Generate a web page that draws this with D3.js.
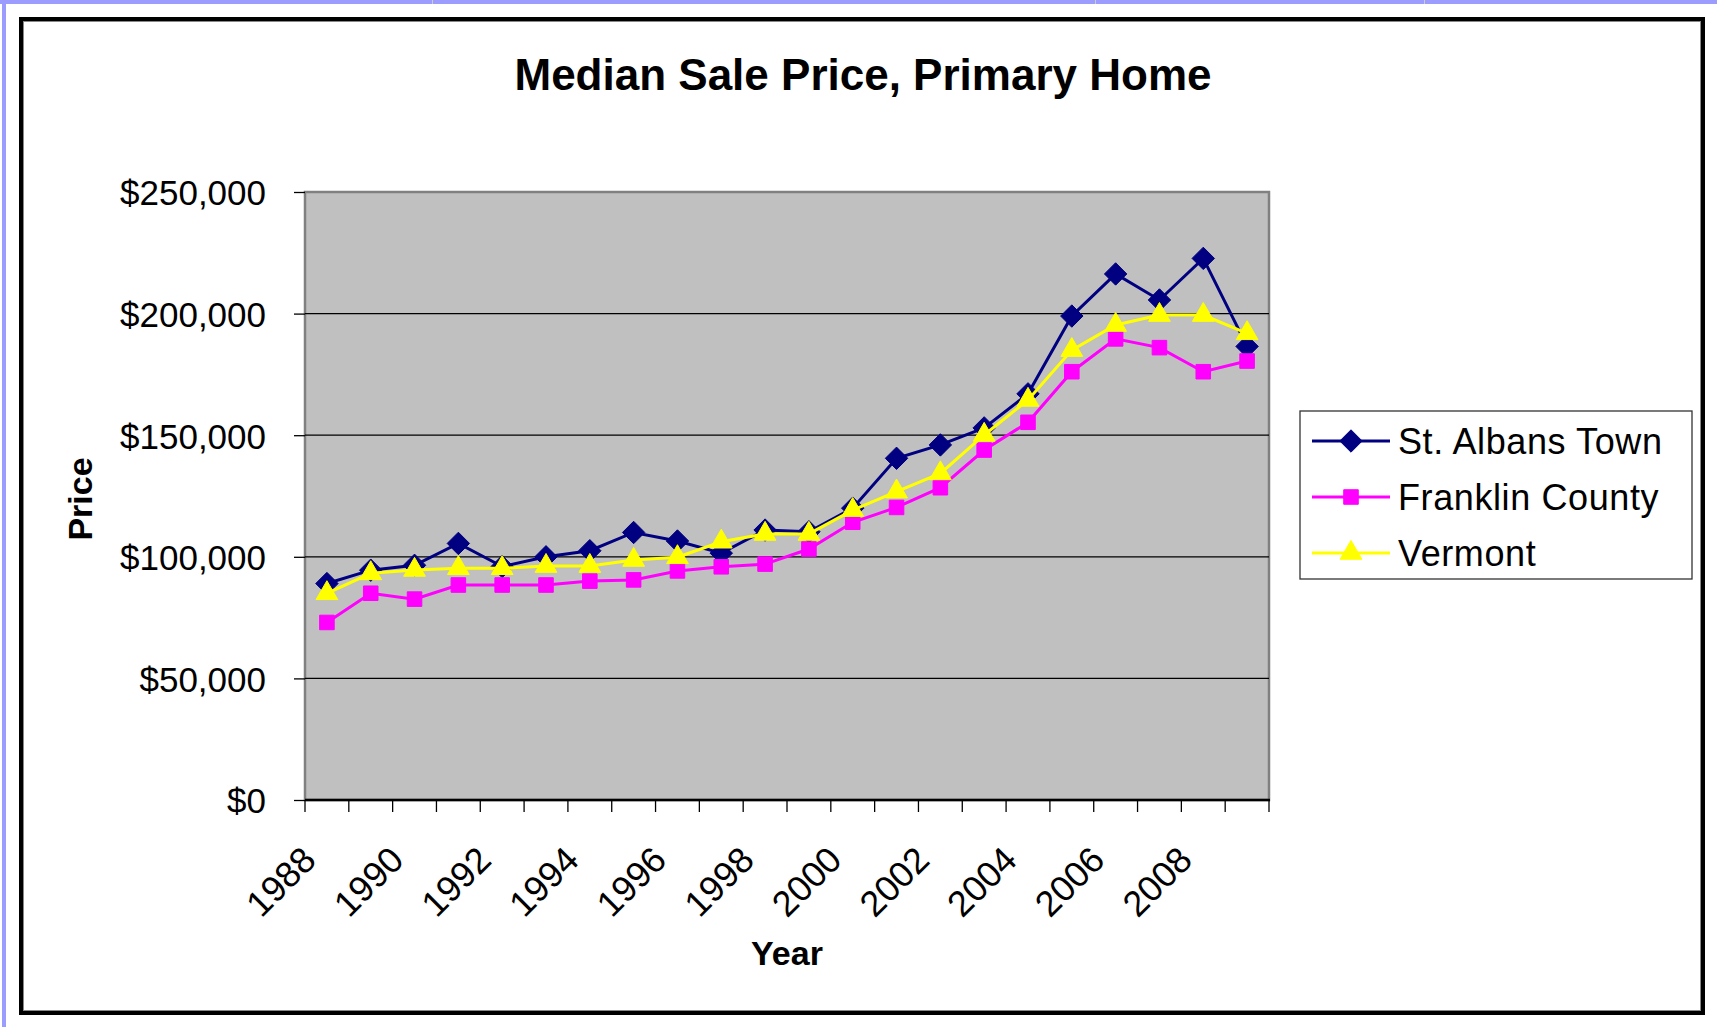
<!DOCTYPE html>
<html>
<head>
<meta charset="utf-8">
<script src="https://cdn.jsdelivr.net/npm/d3@7"></script>
<style>
  body { margin: 0; background: #fff; }
  svg { display: block; font-family: "Liberation Sans", Arial, sans-serif; }
</style>
</head>
<body>
<div id="chart"></div>
<script>
const W = 1717, H = 1027;

// data
const years = [1988, 1989, 1990, 1991, 1992, 1993, 1994, 1995, 1996, 1997, 1998,
               1999, 2000, 2001, 2002, 2003, 2004, 2005, 2006, 2007, 2008, 2009];
const stAlbans = [89000, 94500, 96500, 105500, 96000, 100000, 102500, 110000, 106500, 101500, 111000,
                  110300, 120000, 140500, 146000, 153000, 167000, 199000, 216300, 205600, 222700, 186500];
const franklin = [73000, 85000, 82600, 88400, 88400, 88400, 90000, 90500, 94200, 95900, 97000,
                  103200, 114200, 120300, 128400, 143900, 155300, 176100, 189600, 186000, 176100, 180500];
const vermont = [85000, 93200, 94600, 95300, 95300, 96200, 96200, 98700, 99800, 106200, 109400,
                 109400, 119200, 126800, 134300, 150100, 164500, 185000, 195300, 199400, 199400, 191900];
const seriesNames = ["St. Albans Town", "Franklin County", "Vermont"];
const yTicks = [0, 50000, 100000, 150000, 200000, 250000];
const xLabels = [1988, 1990, 1992, 1994, 1996, 1998, 2000, 2002, 2004, 2006, 2008];

const series = [
  {name: seriesNames[0], values: stAlbans, color: "#000080", shape: d3.symbolDiamond2, size: 320},
  {name: seriesNames[1], values: franklin, color: "#ff00ff", shape: d3.symbolSquare2, size: 270},
  {name: seriesNames[2], values: vermont, color: "#ffff00", shape: d3.symbolTriangle2, size: 340}
];

const plot = {left: 305, right: 1269, top: 192, bottom: 800};

const svg = d3.select("#chart").append("svg")
  .attr("width", W).attr("height", H);

// page decoration
svg.append("rect").attr("x", 0).attr("y", 0).attr("width", W).attr("height", 4).attr("fill", "#9c9cff");
svg.append("rect").attr("x", 2).attr("y", 0).attr("width", 4).attr("height", H).attr("fill", "#9c9cff");
[432, 1095, 1424].forEach(x => {
  svg.append("rect").attr("x", x).attr("y", 0).attr("width", 1).attr("height", 4).attr("fill", "#ccc");
});

// chart frame
svg.append("rect")
  .attr("x", 21).attr("y", 19).attr("width", 1682).attr("height", 994)
  .attr("fill", "none").attr("stroke", "#000").attr("stroke-width", 4);
svg.append("rect")
  .attr("x", 23.5).attr("y", 21.5).attr("width", 1677).attr("height", 989)
  .attr("fill", "none").attr("stroke", "#888").attr("stroke-width", 1);

const x = d3.scaleBand().domain(years).range([plot.left, plot.right]);
const cx = d => x(d) + x.bandwidth() / 2;
const y = d3.scaleLinear().domain([0, 250000]).range([plot.bottom, plot.top]);

// plot area
svg.append("rect")
  .attr("x", plot.left).attr("y", plot.top)
  .attr("width", plot.right - plot.left).attr("height", plot.bottom - plot.top)
  .attr("fill", "#c0c0c0").attr("stroke", "#808080").attr("stroke-width", 2.5);

// gridlines
svg.append("g").selectAll("line")
  .data(yTicks.filter(t => t > 0 && t < 250000))
  .join("line")
  .attr("x1", plot.left).attr("x2", plot.right)
  .attr("y1", d => y(d)).attr("y2", d => y(d))
  .attr("stroke", "#000").attr("stroke-width", 1.3);

// y axis
const yAxis = svg.append("g")
  .attr("transform", `translate(${plot.left},0)`)
  .call(d3.axisLeft(y).tickValues(yTicks).tickSize(11).tickPadding(28)
    .tickFormat(d => "$" + d3.format(",")(d)));
yAxis.select(".domain").remove();
yAxis.selectAll(".tick line").attr("stroke", "#000").attr("stroke-width", 1.3);
yAxis.selectAll(".tick text")
  .attr("font-size", 35).attr("fill", "#000")
  .attr("font-family", "Liberation Sans, Arial, sans-serif")
  .attr("dy", "0.37em");

// x axis line and ticks between categories
svg.append("line")
  .attr("x1", plot.left).attr("x2", plot.right + 1)
  .attr("y1", plot.bottom).attr("y2", plot.bottom)
  .attr("stroke", "#000").attr("stroke-width", 2.5);
const bounds = years.map(d => x(d)).concat([plot.right]);
svg.append("g").selectAll("line")
  .data(bounds)
  .join("line")
  .attr("x1", d => d).attr("x2", d => d)
  .attr("y1", plot.bottom).attr("y2", plot.bottom + 12)
  .attr("stroke", "#000").attr("stroke-width", 1.3);

const xAxis = svg.append("g")
  .attr("transform", `translate(0,${plot.bottom})`)
  .call(d3.axisBottom(x).tickValues(xLabels).tickSize(0));
xAxis.select(".domain").remove();
xAxis.selectAll(".tick text")
  .attr("font-size", 36).attr("fill", "#000")
  .attr("font-family", "Liberation Sans, Arial, sans-serif")
  .attr("text-anchor", "end")
  .attr("y", 0).attr("dy", 0)
  .attr("transform", "translate(-9,62) rotate(-45)");

// series lines and markers
const line = d3.line().x((d, i) => cx(years[i])).y(d => y(d));
series.forEach(s => {
  svg.append("path")
    .datum(s.values)
    .attr("d", line)
    .attr("fill", "none")
    .attr("stroke", s.color)
    .attr("stroke-width", 3);
  svg.append("g").selectAll("path")
    .data(s.values)
    .join("path")
    .attr("d", d3.symbol(s.shape, s.size))
    .attr("transform", (d, i) => `translate(${cx(years[i])},${y(d)})`)
    .attr("fill", s.color)
    .attr("stroke", s.color)
    .attr("stroke-width", 1);
});

// titles
svg.append("text")
  .attr("x", 863).attr("y", 90)
  .attr("text-anchor", "middle")
  .attr("font-size", 44).attr("font-weight", "bold")
  .text("Median Sale Price, Primary Home");
svg.append("text")
  .attr("x", (plot.left + plot.right) / 2).attr("y", 965)
  .attr("text-anchor", "middle")
  .attr("font-size", 34).attr("font-weight", "bold")
  .text("Year");
svg.append("text")
  .attr("transform", "translate(92,499) rotate(-90)")
  .attr("text-anchor", "middle")
  .attr("font-size", 34).attr("font-weight", "bold")
  .text("Price");

// legend
const legend = svg.append("g");
legend.append("rect")
  .attr("x", 1300).attr("y", 411).attr("width", 392).attr("height", 168)
  .attr("fill", "#fff").attr("stroke", "#333").attr("stroke-width", 1.3);
const rowY = [441, 497, 553];
series.forEach((s, i) => {
  const g = legend.append("g").attr("transform", `translate(0,${rowY[i]})`);
  g.append("line").attr("x1", 1312).attr("x2", 1390)
    .attr("stroke", s.color).attr("stroke-width", 3);
  g.append("path")
    .attr("d", d3.symbol(s.shape, s.size))
    .attr("transform", "translate(1351,0)")
    .attr("fill", s.color).attr("stroke", s.color);
  g.append("text")
    .attr("x", 1398).attr("dy", "0.36em")
    .attr("font-size", 36).attr("letter-spacing", 0.6)
    .text(s.name);
});
</script>
</body>
</html>
